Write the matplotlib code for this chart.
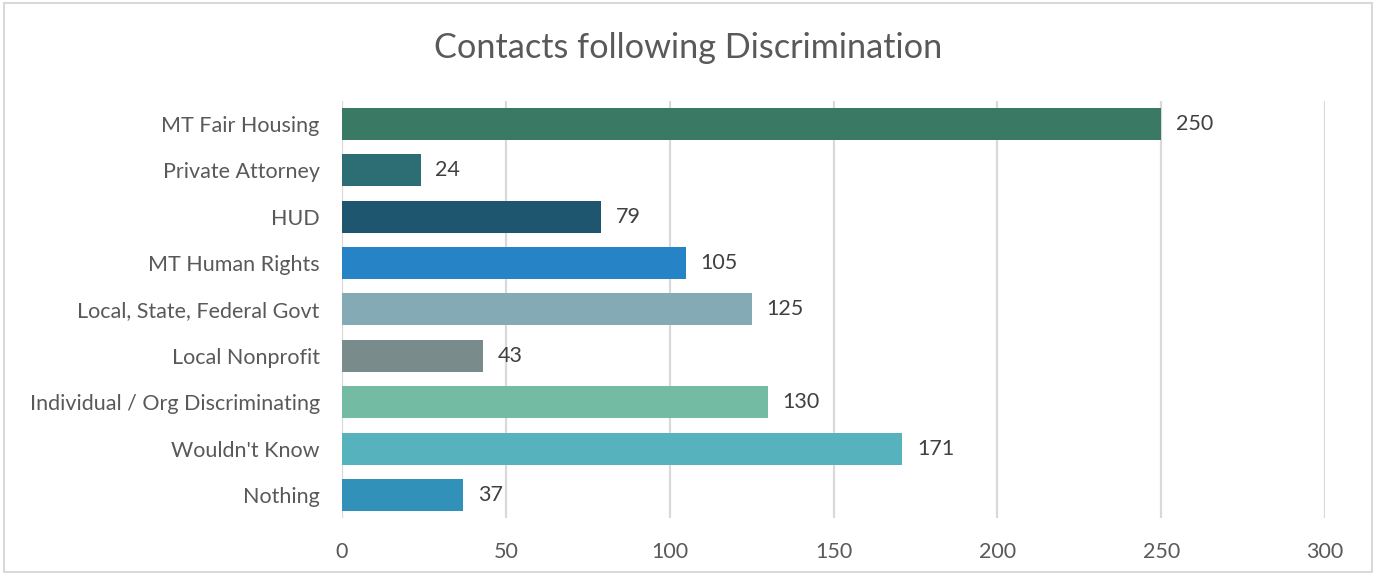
import numpy as np
import matplotlib
matplotlib.use("Agg")
from matplotlib import pyplot as plt
from matplotlib.patches import Rectangle

# chart data
categories = ["MT Fair Housing", "Private Attorney", "HUD", "MT Human Rights",
              "Local, State, Federal Govt", "Local Nonprofit",
              "Individual / Org Discriminating", "Wouldn't Know", "Nothing"]
counts = [250, 24, 79, 105, 125, 43, 130, 171, 37]
bar_colors = ["#3A7A65", "#2C6E74", "#1F566F", "#2683C6", "#84ABB5",
              "#798B8A", "#74BBA4", "#56B3BD", "#3191B8"]
x_ticks = [0, 50, 100, 150, 200, 250, 300]

plt.rcParams['font.family'] = ['Lato', 'DejaVu Sans']

fig = plt.figure(figsize=(13.76, 5.75), dpi=100)
ax = fig.add_axes([0.2485, 0.099, 0.7145, 0.7258])

y = np.arange(len(categories))
ax.barh(y, counts, height=0.69, color=bar_colors, zorder=3)

for yi, v in zip(y, counts):
    ax.text(v + 4.5, yi, str(v), va='center', ha='left', fontsize=15.5, color='#404040')

ax.set_xlim(0, 300)
ax.set_ylim(len(categories) - 0.5, -0.5)
ax.set_yticks(y)
ax.set_yticklabels(categories, fontsize=15.5, color='#595959')
ax.set_xticks(x_ticks)
ax.set_xticklabels([str(t) for t in x_ticks], fontsize=15.5, color='#595959')
ax.tick_params(axis='both', length=0)
ax.tick_params(axis='y', pad=16)
ax.tick_params(axis='x', pad=17)
ax.grid(axis='x', color='#D9D9D9', linewidth=1.6, zorder=0)
for s in ax.spines.values():
    s.set_visible(False)

fig.text(0.5, 0.917, "Contacts following Discrimination", ha='center', va='center',
         fontsize=24.7, color='#595959')

# outer chart border
fig.patches.append(Rectangle((0.003, 0.005), 0.994, 0.99, transform=fig.transFigure,
                             fill=False, edgecolor='#D9D9D9', linewidth=1.5))

fig.savefig("out.png", dpi=100)
